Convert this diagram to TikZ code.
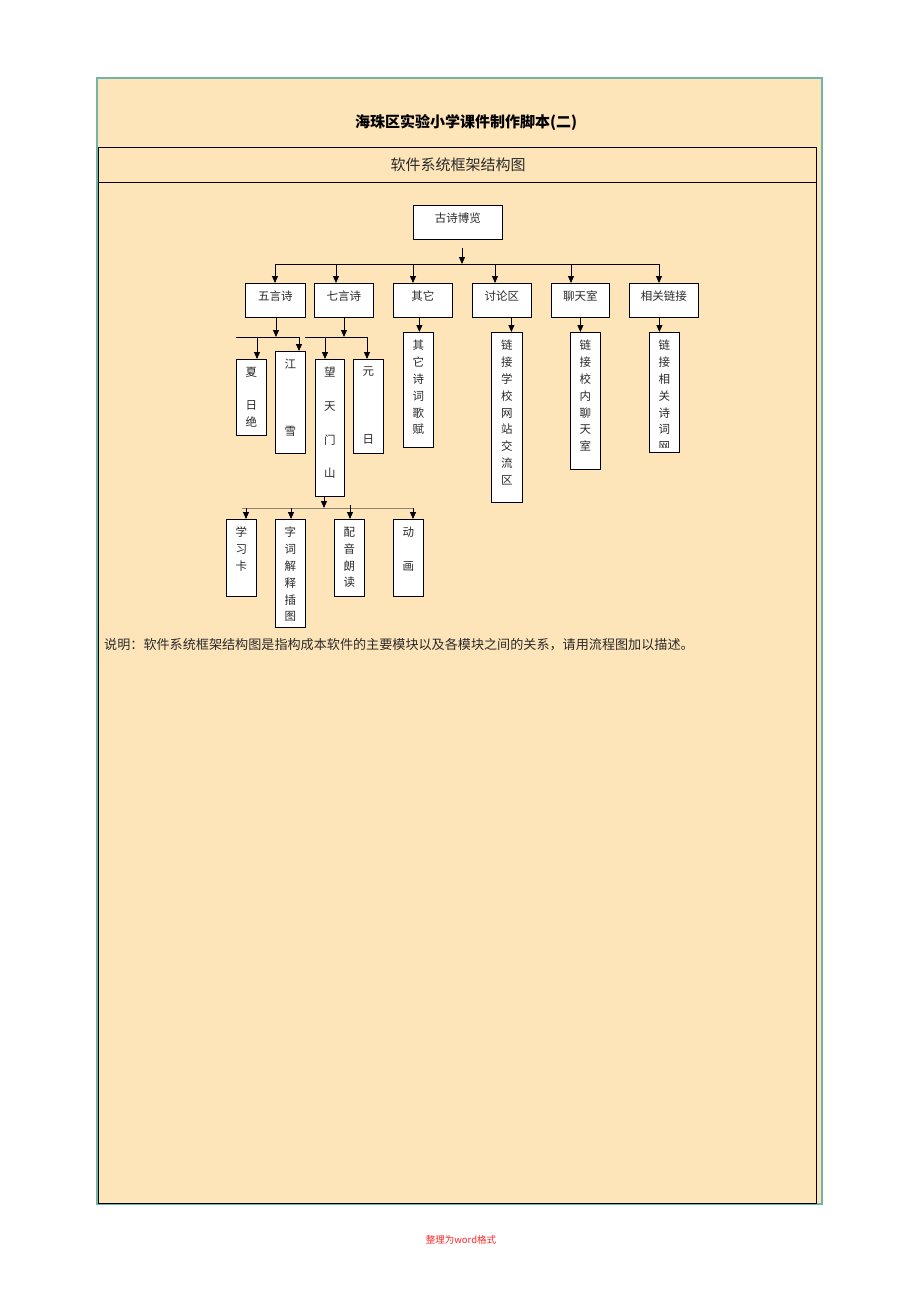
\documentclass[tikz,border=0pt]{standalone}
\usepackage{fontspec}
\newfontfamily\cjk{Noto Sans CJK SC}
\usetikzlibrary{arrows.meta}
\definecolor{peach}{HTML}{FEE5B9}
\definecolor{teal2}{HTML}{6FB5A8}
\definecolor{txt}{HTML}{2A2A2A}
\definecolor{olive}{HTML}{8A8570}
\tikzset{
  box/.style={draw=black, line width=0.8pt, fill=white, inner sep=0pt, anchor=north west},
  lbl/.style={font=\cjk\fontsize{11.5}{16.8}\selectfont, text=txt, inner sep=0pt, anchor=north, align=center},
  arr/.style={-{Triangle[length=7pt,width=6pt]}, line width=0.9pt, draw=black},
  bus/.style={line width=0.8pt, draw=black},
}
\begin{document}
\begin{tikzpicture}[x=1pt,y=-1pt]
\useasboundingbox (0,0) rectangle (920,1302);
\fill[white] (0,0) rectangle (920,1302);
% outer frame
\draw[teal2, line width=1.2pt, fill=peach] (97,78) rectangle (822,1204);
\draw[black, line width=1pt] (98,147) rectangle (816,1203);
\draw[black, line width=1pt] (98,182) -- (816,182);
\node[font=\cjk\bfseries\fontsize{15}{18}\selectfont, text=black] (title) at (466,122) {海珠区实验小学课件制作脚本(二)};
\node[font=\cjk\fontsize{15}{18}\selectfont, text=txt] (head) at (458,165) {软件系统框架结构图};

% top box
\node[box, minimum width=89pt, minimum height=34pt] (gs) at (413,205) {};
\node[lbl] (gsl) at ([yshift=-8pt]gs.north) {古诗博览};

% bus 1
\coordinate (b1) at (462,264);
\coordinate (b1w) at (275,264);
\coordinate (b1e) at (659,264);
\coordinate (a2) at (336,264);
\coordinate (a3) at (413,264);
\coordinate (a4) at (495,264);
\coordinate (a5) at (571,264);
\draw[arr] ([yshift=-8pt]gs.south -| b1) -- (b1);
\draw[bus] (b1w) -- (b1e);

% level 1 boxes
\node[box, minimum width=60pt, minimum height=34pt] (wy) at (245,283) {};
\node[box, minimum width=59pt, minimum height=34pt] (qy) at (314,283) {};
\node[box, minimum width=59pt, minimum height=34pt] (qt) at (393,283) {};
\node[box, minimum width=59pt, minimum height=34pt] (tl) at (472,283) {};
\node[box, minimum width=58pt, minimum height=34pt] (lt) at (551,283) {};
\node[box, minimum width=69pt, minimum height=34pt] (xg) at (629,283) {};
\node[lbl] at ([yshift=-8pt]wy.north) {五言诗};
\node[lbl] at ([yshift=-8pt]qy.north) {七言诗};
\node[lbl] at ([yshift=-8pt]qt.north) {其它};
\node[lbl] at ([yshift=-8pt]tl.north) {讨论区};
\node[lbl] at ([yshift=-8pt]lt.north) {聊天室};
\node[lbl] at ([yshift=-8pt]xg.north) {相关链接};
\draw[arr] (b1w) -- (b1w |- wy.north);
\draw[arr] (a2) -- (a2 |- qy.north);
\draw[arr] (a3) -- (a3 |- qt.north);
\draw[arr] (a4) -- (a4 |- tl.north);
\draw[arr] (a5) -- (a5 |- lt.north);
\draw[arr] (b1e) -- (b1e |- xg.north);

% level 2 boxes
\node[box, minimum width=30pt, minimum height=76pt] (xr) at (236,359) {};
\node[box, minimum width=30pt, minimum height=102pt] (jx) at (275,351) {};
\node[box, minimum width=29pt, minimum height=137pt] (wt) at (315,359) {};
\node[box, minimum width=30pt, minimum height=94pt] (yr) at (353,359) {};
\node[box, minimum width=30pt, minimum height=115pt] (qs) at (403,332) {};
\node[box, minimum width=31pt, minimum height=170pt] (lx) at (491,332) {};
\node[box, minimum width=30pt, minimum height=137pt] (ll) at (570,332) {};
\node[box, minimum width=30pt, minimum height=120pt] (lj) at (649,332) {};
\node[lbl] at ([yshift=-8pt]xr.north) {夏\\~\\日\\绝};
\node[lbl] at ([yshift=-8pt]jx.north) {江\\~\\~\\~\\雪};
\node[lbl] at ([yshift=-8pt]wt.north) {望\\~\\天\\~\\门\\~\\山};
\node[lbl] at ([yshift=-8pt]yr.north) {元\\~\\~\\~\\日};
\node[lbl] at ([yshift=-8pt]qs.north) {其\\它\\诗\\词\\歌\\赋};
\node[lbl] at ([yshift=-8pt]lx.north) {链\\接\\学\\校\\网\\站\\交\\流\\区};
\node[lbl] at ([yshift=-8pt]ll.north) {链\\接\\校\\内\\聊\\天\\室};
\begin{scope}
\clip ([xshift=0.4pt,yshift=-0.4pt]lj.north west) rectangle ([xshift=-0.4pt,yshift=5pt]lj.south east);
\node[lbl] at ([yshift=-8pt]lj.north) {链\\接\\相\\关\\诗\\词\\网};
\end{scope}

% level-2 buses
\coordinate (c1) at (276,337);
\coordinate (c1w) at (236,337);
\coordinate (c1a) at (257,337);
\coordinate (c1e) at (299,337);
\coordinate (c2) at (344,337);
\coordinate (c2w) at (305,337);
\coordinate (c2a) at (325,337);
\coordinate (c2e) at (367,337);
\draw[arr] (wy.south -| c1) -- (c1);
\draw[bus] (c1w) -- (c1e);
\draw[arr] (c1a) -- (c1a |- xr.north);
\draw[arr] (c1e) -- (c1e |- jx.north);
\draw[arr] (qy.south -| c2) -- (c2);
\draw[bus] (c2w) -- (c2e);
\draw[arr] (c2a) -- (c2a |- wt.north);
\draw[arr] (c2e) -- (c2e |- yr.north);
\draw[arr] ([xshift=1pt]qs.north |- qt.south) -- ([xshift=1pt]qs.north);
\draw[arr] ([xshift=4.5pt]lx.north |- tl.south) -- ([xshift=4.5pt]lx.north);
\draw[arr] ([xshift=-5pt]ll.north |- lt.south) -- ([xshift=-5pt]ll.north);
\draw[arr] ([xshift=-5pt]lj.north |- xg.south) -- ([xshift=-5pt]lj.north);

% level 3
\node[box, minimum width=30pt, minimum height=77pt] (xx) at (226,519) {};
\node[box, minimum width=30pt, minimum height=108pt] (zc) at (275,519) {};
\node[box, minimum width=30pt, minimum height=77pt] (py) at (334,519) {};
\node[box, minimum width=30pt, minimum height=77pt] (dh) at (393,519) {};
\node[lbl] at ([yshift=-8pt]xx.north) {学\\习\\卡};
\node[lbl] at ([yshift=-8pt]zc.north) {字\\词\\解\\释\\插\\图};
\node[lbl] at ([yshift=-8pt]py.north) {配\\音\\朗\\读};
\node[lbl] at ([yshift=-8pt]dh.north) {动\\~\\画};
\coordinate (d0) at (324,508);
\coordinate (dw) at (242,508);
\coordinate (de) at (413,508);
\coordinate (d1) at (246,508);
\coordinate (d2) at (291,508);
\coordinate (d3) at (350,505);
\draw[line width=0.8pt, draw=olive] (dw) -- (de);
\draw[arr] (wt.south -| d0) -- (d0);
\draw[arr] (d1) -- (d1 |- xx.north);
\draw[arr] (d2) -- (d2 |- zc.north);
\draw[arr] (d3) -- (d3 |- py.north);
\draw[arr] (de) -- (de |- dh.north);

% description
\node[font=\cjk\fontsize{13.1}{15}\selectfont, text=txt, anchor=west, inner sep=0pt] (desc) at (104,645) {说明：软件系统框架结构图是指构成本软件的主要模块以及各模块之间的关系，请用流程图加以描述。};
% footer
\node[font=\cjk\fontsize{9.5}{11}\selectfont, text=red!85!white] (foot) at (461,1240) {整理为word格式};
\end{tikzpicture}
\end{document}
